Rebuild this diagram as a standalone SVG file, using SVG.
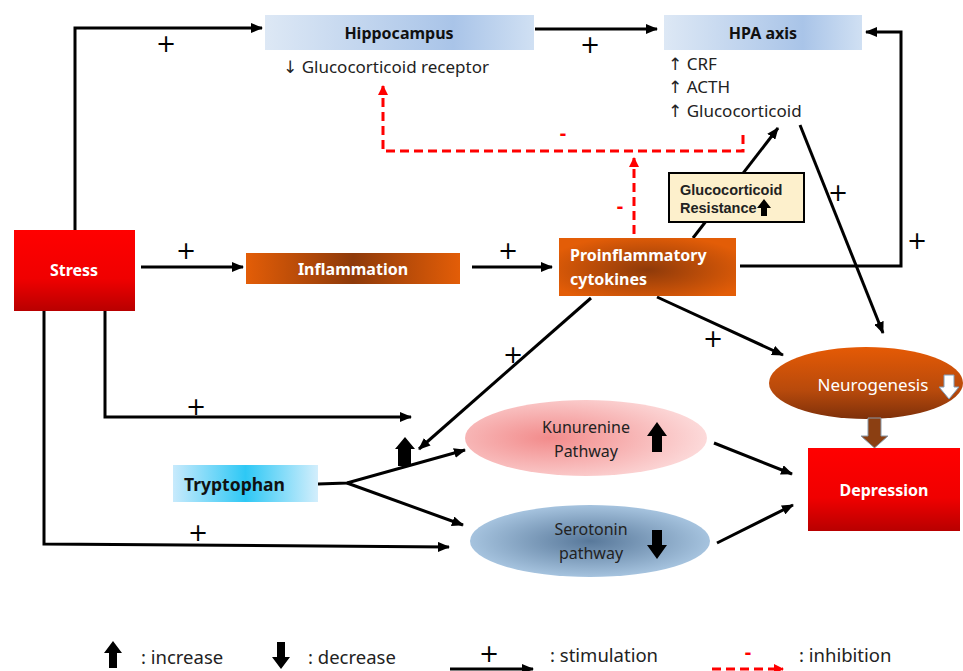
<svg xmlns="http://www.w3.org/2000/svg" width="963" height="671" viewBox="0 0 963 671">
<defs>
<linearGradient id="gRed" x1="0" y1="0" x2="0" y2="1"><stop offset="0" stop-color="#ff0000"/><stop offset="0.6" stop-color="#f00000"/><stop offset="1" stop-color="#b80000"/></linearGradient>
<linearGradient id="gBlue" x1="0" y1="0" x2="1" y2="0"><stop offset="0" stop-color="#dde8f5"/><stop offset="0.7" stop-color="#a9c4e8"/><stop offset="1" stop-color="#d0e0f3"/></linearGradient>
<linearGradient id="gOrange" x1="0" y1="0" x2="1" y2="0"><stop offset="0" stop-color="#e35d07"/><stop offset="0.5" stop-color="#8e3a0a"/><stop offset="1" stop-color="#e35d07"/></linearGradient>
<radialGradient id="gCyto" cx="0.5" cy="0.55" r="0.6"><stop offset="0" stop-color="#8e3a0a"/><stop offset="1" stop-color="#e35d07"/></radialGradient>
<linearGradient id="gNeuro" x1="0" y1="0" x2="0" y2="1"><stop offset="0" stop-color="#e55a05"/><stop offset="0.6" stop-color="#b84a0c"/><stop offset="1" stop-color="#7e300a"/></linearGradient>
<radialGradient id="gPink" cx="0.35" cy="0.5" r="0.7"><stop offset="0" stop-color="#f28b8b"/><stop offset="1" stop-color="#fde0e0"/></radialGradient>
<radialGradient id="gSero" cx="0.5" cy="0.5" r="0.6"><stop offset="0" stop-color="#58789a"/><stop offset="1" stop-color="#b5d2ec"/></radialGradient>
<linearGradient id="gTryp" x1="0" y1="0" x2="1" y2="0"><stop offset="0" stop-color="#c8eafc"/><stop offset="0.5" stop-color="#2ec8f5"/><stop offset="1" stop-color="#d3eefc"/></linearGradient>
<marker id="ah" markerWidth="12" markerHeight="10" refX="11" refY="5" orient="auto" markerUnits="userSpaceOnUse"><path d="M0,0 L12,5 L0,10 z" fill="#000"/></marker>
<marker id="ahr" markerWidth="10" markerHeight="10" refX="9" refY="5" orient="auto" markerUnits="userSpaceOnUse"><path d="M0,0 L10,5 L0,10 z" fill="#ff0000"/></marker>
<style>
.t{font-family:"Noto Sans","Open Sans","Liberation Sans",sans-serif;}
.ls{font-family:"Liberation Sans","Noto Sans",sans-serif;font-weight:bold;}
.ar{font-family:"DejaVu Sans",sans-serif;font-weight:normal;}
.b{font-weight:bold;}
.w{fill:#fff;}
.ln{stroke:#000;stroke-width:3;fill:none;}
.dl{stroke:#ff0000;stroke-width:3;fill:none;stroke-dasharray:9,5;}
.pl{font-family:"DejaVu Sans","Liberation Sans",sans-serif;font-size:24px;fill:#000;}
.mi{font-family:"Noto Sans","Liberation Sans",sans-serif;font-size:20px;fill:#ff0000;font-weight:bold;}
</style>
</defs>
<rect width="963" height="671" fill="#fff"/>

<g id="connectors">
<path class="ln" d="M75,230 V28 H262" marker-end="url(#ah)"/>
<path class="ln" d="M535,29 H657" marker-end="url(#ah)"/>
<path class="ln" d="M141,267 H243" marker-end="url(#ah)"/>
<path class="ln" d="M472,267 H552" marker-end="url(#ah)"/>
<path class="ln" d="M740,266 H901 V32 H866" marker-end="url(#ah)"/>
<path class="ln" d="M693,238 L778,128" marker-end="url(#ah)"/>
<path class="ln" d="M800,125 L883,333" marker-end="url(#ah)"/>
<path class="ln" d="M657,297 L783,355" marker-end="url(#ah)"/>
<path class="ln" d="M591,298 L419,449" stroke-width="2.5" marker-end="url(#ah)"/>
<path class="ln" d="M105,311 V417 H411" marker-end="url(#ah)"/>
<path class="ln" d="M44,311 V544 L449,547" marker-end="url(#ah)"/>
<path class="ln" d="M318,484 L347,483 L465,450" marker-end="url(#ah)"/>
<path class="ln" d="M347,483 L463,525" marker-end="url(#ah)"/>
<path class="ln" d="M714,443 L792,474" marker-end="url(#ah)"/>
<path class="ln" d="M717,543 L793,505" marker-end="url(#ah)"/>
<path class="dl" d="M634,234 V158" marker-end="url(#ahr)"/>
<path class="dl" d="M743,135 V151 H383 V86" marker-end="url(#ahr)"/>
<text class="pl" x="166" y="52" text-anchor="middle">+</text>
<text class="pl" x="590" y="53" text-anchor="middle">+</text>
<text class="pl" x="186" y="259" text-anchor="middle">+</text>
<text class="pl" x="508" y="259" text-anchor="middle">+</text>
<text class="pl" x="917" y="249" text-anchor="middle">+</text>
<text class="pl" x="838" y="201" text-anchor="middle">+</text>
<text class="pl" x="713" y="347" text-anchor="middle">+</text>
<text class="pl" x="513" y="363" text-anchor="middle">+</text>
<text class="pl" x="196" y="415" text-anchor="middle">+</text>
<text class="pl" x="198" y="541" text-anchor="middle">+</text>
<text class="mi" x="563" y="140" text-anchor="middle">-</text>
<text class="mi" x="620" y="213" text-anchor="middle">-</text>
<path d="M398,466 V449 H395 L405,437 L415,449 H411 V466 z" fill="#000"/>
</g>

<g id="stress">
<rect x="14" y="230" width="121" height="81" fill="url(#gRed)"/>
<text class="t b w" x="74" y="276" font-size="16" text-anchor="middle">Stress</text>
</g>

<g id="hippocampus">
<rect x="265" y="15" width="269" height="35" fill="url(#gBlue)"/>
<text class="t b" x="399" y="39" font-size="16" text-anchor="middle" fill="#111">Hippocampus</text>
<text class="t" x="283" y="73" font-size="17" fill="#222"><tspan class="ar">↓</tspan> Glucocorticoid receptor</text>
</g>

<g id="hpa">
<rect x="664" y="15" width="198" height="35" fill="url(#gBlue)"/>
<text class="t b" x="763" y="39" font-size="16" text-anchor="middle" fill="#111">HPA axis</text>
<text class="t" x="668" y="70" font-size="17" fill="#222"><tspan class="ar">↑</tspan> CRF</text>
<text class="t" x="668" y="93" font-size="17" fill="#222"><tspan class="ar">↑</tspan> ACTH</text>
<text class="t" x="668" y="117" font-size="17" fill="#222"><tspan class="ar">↑</tspan> Glucocorticoid</text>
</g>

<g id="inflammation">
<rect x="246" y="253" width="214" height="31" fill="url(#gOrange)"/>
<text class="t b w" x="353" y="275" font-size="16" text-anchor="middle">Inflammation</text>
</g>

<g id="cytokines">
<rect x="559" y="238" width="177" height="58" fill="url(#gCyto)"/>
<text class="t b w" x="570" y="261" font-size="16">Proinflammatory</text>
<text class="t b w" x="570" y="285" font-size="16">cytokines</text>
</g>

<g id="resistance">
<rect x="669" y="173" width="135" height="49" fill="#fdf0cc" stroke="#000" stroke-width="2"/>
<text class="ls" x="680" y="195" font-size="14.5" fill="#222">Glucocorticoid</text>
<text class="ls" x="680" y="213" font-size="14.5" fill="#222">Resistance</text>
<path d="M761,216 V208 H757 L764,199 L771,208 H767 V216 z" fill="#000"/>
</g>

<g id="neurogenesis">
<ellipse cx="866" cy="383" rx="97" ry="36" fill="url(#gNeuro)"/>
<text class="t w" x="873" y="391" font-size="17" text-anchor="middle">Neurogenesis</text>
<path d="M944,375 H954 V387 H959 L949,399 L939,387 H944 z" fill="#fff" stroke="#7f9bb8" stroke-width="1"/>
</g>

<g id="neuro-arrow">
<path d="M868,418 H881 V436 H888 L874.5,448 L861,436 H868 z" fill="#8b3f12" stroke="#8a9aa8" stroke-width="1"/>
</g>

<g id="depression">
<rect x="808" y="448" width="152" height="83" fill="url(#gRed)"/>
<text class="t b w" x="884" y="496" font-size="16" text-anchor="middle">Depression</text>
</g>

<g id="kynurenine">
<ellipse cx="586" cy="438" rx="121" ry="38" fill="url(#gPink)"/>
<text class="t" x="586" y="433" font-size="16" text-anchor="middle" fill="#222">Kunurenine</text>
<text class="t" x="586" y="457" font-size="16" text-anchor="middle" fill="#222">Pathway</text>
<path d="M652,452 V436 H647 L657,422 L667,436 H662 V452 z" fill="#000"/>
</g>

<g id="serotonin">
<ellipse cx="590" cy="541" rx="120" ry="36" fill="url(#gSero)"/>
<text class="t" x="591" y="535" font-size="16" text-anchor="middle" fill="#222">Serotonin</text>
<text class="t" x="591" y="559" font-size="16" text-anchor="middle" fill="#222">pathway</text>
<path d="M652,530 V545 H647 L657,559 L667,545 H662 V530 z" fill="#000"/>
</g>

<g id="tryptophan">
<rect x="173" y="465" width="145" height="37" fill="url(#gTryp)"/>
<text class="t b" x="184" y="491" font-size="17.5" fill="#111">Tryptophan</text>
</g>

<g id="legend">
<path d="M109,668 V653 H104 L113,641 L122,653 H117 V668 z" fill="#000"/>
<text class="t" x="141" y="664" font-size="18.5" fill="#222">: increase</text>
<path d="M277,642 V657 H272 L281,669 L290,657 H285 V642 z" fill="#000"/>
<text class="t" x="308" y="664" font-size="18.5" fill="#222">: decrease</text>
<path class="ln" d="M450,669 H533" marker-end="url(#ah)"/>
<text class="pl" x="489" y="662" text-anchor="middle">+</text>
<text class="t" x="550" y="662" font-size="18.5" fill="#222">: stimulation</text>
<path class="dl" d="M712,669 H783" stroke-dasharray="7,4" marker-end="url(#ahr)"/>
<text class="mi" x="748" y="659" text-anchor="middle">-</text>
<text class="t" x="799" y="662" font-size="18.5" fill="#222">: inhibition</text>
</g>
</svg>
